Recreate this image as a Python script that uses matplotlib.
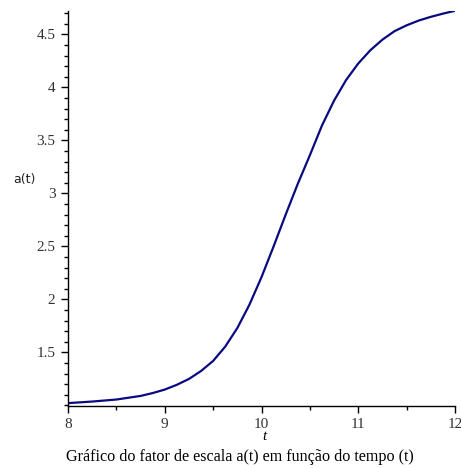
import matplotlib.pyplot as plt
from matplotlib.ticker import MultipleLocator

# tempo t e fator de escala a(t)
t = [8.0, 8.25, 8.5, 8.75, 8.875, 9.0, 9.125, 9.25, 9.375, 9.5, 9.625, 9.75, 9.875,
     10.0, 10.125, 10.25, 10.375, 10.5, 10.625, 10.75, 10.875, 11.0, 11.125,
     11.25, 11.375, 11.5, 11.625, 11.75, 11.875, 12.0]
a = [1.022, 1.037, 1.056, 1.090, 1.117, 1.150, 1.195, 1.250, 1.325, 1.42, 1.555, 1.73, 1.95,
     2.21, 2.50, 2.80, 3.09, 3.36, 3.64, 3.875, 4.07, 4.225, 4.35,
     4.45, 4.53, 4.585, 4.63, 4.665, 4.695, 4.722]

xticks = [8, 9, 10, 11, 12]
yticks = [1.5, 2, 2.5, 3, 3.5, 4, 4.5]
ytick_labels = ["1.5", "2", "2.5", "3", "3.5", "4", "4.5"]

serif = ["Liberation Serif", "DejaVu Serif"]

fig = plt.figure(figsize=(4.61, 4.68), dpi=100)
ax = fig.add_axes([68 / 461, 1 - 406 / 468, (455 - 68) / 461, (406 - 11) / 468])

ax.plot(t, a, color="#0a0a80", linewidth=1.6, solid_joinstyle="round")

ax.set_xlim(8, 12)
ax.set_ylim(0.995, 4.72)

ax.spines["top"].set_visible(False)
ax.spines["right"].set_visible(False)
for s in ("left", "bottom"):
    ax.spines[s].set_linewidth(1.0)
    ax.spines[s].set_color("black")

ax.set_xticks(xticks)
ax.set_xticklabels([str(v) for v in xticks], fontfamily=serif, fontsize=11, color="#333333")
ax.set_yticks(yticks)
ax.set_yticklabels(ytick_labels, fontfamily=serif, fontsize=11, color="#333333")
ax.xaxis.set_minor_locator(MultipleLocator(0.5))
ax.yaxis.set_minor_locator(MultipleLocator(0.1))

ax.tick_params(which="major", length=5, width=1, pad=4)
ax.tick_params(which="minor", length=3, width=1)

# rótulos dos eixos
fig.text(13 / 461, 1 - 180 / 468, "a(t)", fontsize=9, family="DejaVu Sans",
         ha="left", va="center", color="#222222")
fig.text(264 / 461, 1 - 437 / 468, "t", fontsize=11, family=serif,
         style="italic", ha="center", va="center")
fig.text(240 / 461, 1 - 457 / 468,
         "Gráfico do fator de escala a(t) em função do tempo (t)",
         fontsize=11.6, family=serif, ha="center", va="center")

fig.savefig("out.png", dpi=100)
